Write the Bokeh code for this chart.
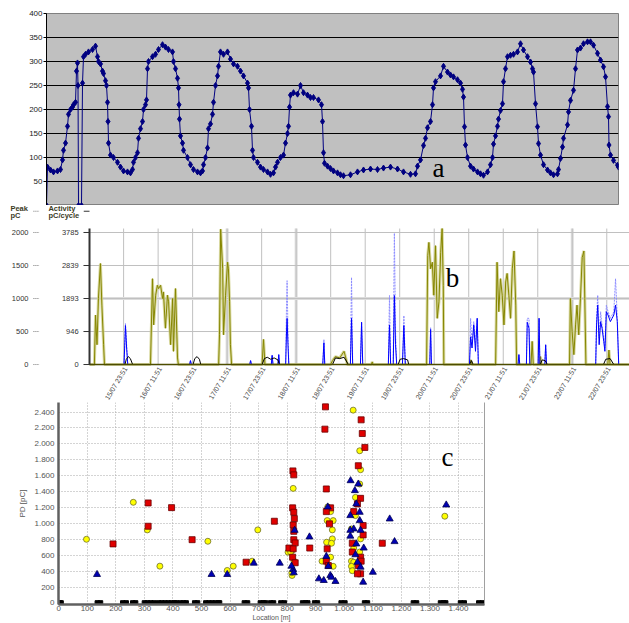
import math
from bokeh.plotting import figure
from bokeh.models import (Range1d, FixedTicker, Label, LinearAxis, GlobalInlineStyleSheet)
from bokeh.core.properties import value
from bokeh.embed import file_html
from bokeh.resources import INLINE

SANS = "Liberation Sans"
SERIF = "Liberation Serif"

# ---------------- panel a : load curve (sample index, value) ----------------
load_s = [0, 1, 4, 7, 11, 14, 16, 17, 19, 21,
          22, 24, 26, 27, 29, 30, 31, 31.5, 32, 35,
          36, 37, 39, 42, 46, 49, 51, 52, 54, 56,
          57, 59, 60, 61, 61.5, 62, 64, 67, 71, 74,
          77, 81, 84, 86, 87, 89, 91, 92, 94, 96,
          97, 99, 100, 101, 102, 106, 109, 112, 116, 119,
          122, 126, 127, 129, 131, 132, 132.5, 133, 134, 136,
          137, 141, 144, 147, 151, 154, 156, 157, 159, 161,
          162, 164, 166, 167, 169, 171, 172, 174, 177, 181,
          184, 187, 191, 194, 197, 201, 202, 203, 205, 206,
          207, 211, 214, 217, 221, 224, 227, 229, 231, 234,
          237, 239, 241, 242, 243, 244, 247, 251, 254, 257,
          261, 264, 267, 272, 275, 276, 277, 278, 281, 284,
          287, 291, 294, 297, 304, 311, 317, 324, 331, 337,
          344, 351, 357, 364, 369, 371, 374, 377, 379, 381,
          384, 386, 387, 389, 394, 397, 401, 404, 407, 411,
          414, 416, 417, 418, 419, 421, 424, 427, 431, 434,
          437, 441, 444, 446, 447, 449, 451, 452, 454, 456,
          457, 459, 461, 464, 467, 471, 474, 477, 481, 484,
          486, 487, 489, 491, 492, 494, 497, 501, 504, 507,
          511, 512, 514, 516, 517, 521, 522, 524, 527, 529,
          531, 534, 537, 541, 544, 547, 551, 554, 557, 559,
          561, 562, 562.5, 564, 567, 571, 572]
load_v = [0, 80, 74, 70, 72, 75, 95, 115, 130, 165,
          190, 200, 205, 210, 215, 280, 297, 250, 0, 0,
          255, 310, 315, 320, 325, 332, 310, 300, 295, 280,
          275, 260, 250, 215, 175, 130, 105, 100, 90, 80,
          72, 70, 68, 75, 90, 100, 110, 140, 160, 175,
          200, 210, 220, 285, 300, 310, 315, 325, 335, 330,
          325, 320, 300, 285, 265, 245, 210, 180, 145, 130,
          115, 100, 85, 75, 70, 68, 72, 85, 100, 120,
          160, 170, 190, 215, 250, 270, 290, 320, 315, 320,
          305, 295, 290, 280, 270, 255, 245, 200, 165, 115,
          100, 90, 80, 75, 70, 65, 68, 80, 90, 100,
          105, 130, 150, 165, 205, 230, 235, 232, 250, 235,
          230, 225, 225, 220, 210, 175, 110, 88, 82, 77,
          72, 68, 64, 62, 64, 70, 74, 76, 75, 78,
          80, 76, 70, 65, 66, 82, 95, 125, 140, 162,
          175, 210, 245, 258, 270, 290, 278, 272, 268, 262,
          255, 242, 226, 164, 126, 100, 82, 76, 70, 66,
          63, 70, 85, 100, 128, 145, 165, 180, 198, 212,
          258, 285, 310, 313, 315, 320, 337, 324, 310, 299,
          285, 278, 212, 164, 129, 105, 85, 74, 68, 64,
          66, 75, 98, 122, 140, 168, 195, 219, 240, 285,
          324, 328, 337, 341, 341, 334, 317, 303, 289, 268,
          206, 185, 126, 105, 94, 84, 80]
load_ticks = [50, 100, 150, 200, 250, 300, 350, 400]

# ---------------- panel b : PD activity (hours since 15/07 00:00) ----------------
b_tick_h = [23.85, 35.85, 47.85, 59.85, 71.85, 83.85, 95.85, 107.85,
            119.85, 131.85, 143.85, 155.85, 167.85, 179.85, 191.85]
b_tick_lbl = ["15/07 23:51", "16/07 11:51", "16/07 23:51", "17/07 11:51",
              "17/07 23:51", "18/07 11:51", "18/07 23:51", "19/07 11:51",
              "19/07 23:51", "20/07 11:51", "20/07 23:51", "21/07 11:51",
              "21/07 23:51", "22/07 11:51", "22/07 23:51"]
b_band_h = [59.85, 83.85, 179.85]
peak_ticks = [0, 500, 1000, 1500, 2000]
peak_lbl = ["0", "500", "1000", "1500", "2000"]
act_lbl = ["0", "946", "1893", "2839", "3785"]

olive_t = [12.0, 13.7, 14.1, 14.6, 15.1, 15.8, 16.3, 16.9, 17.2,
           33.2, 33.9, 34.3, 35.0, 35.6, 36.0, 36.7, 37.4, 37.7, 38.4, 39.1, 39.5, 40.2, 40.9, 41.2, 41.9, 42.6, 42.9,
           56.9, 57.2, 57.6, 58.3, 58.6, 59.3, 60.0, 60.3, 60.7, 61.0, 61.4,
           72.0, 72.5, 73.0,
           95.8, 96.5, 97.5, 99.0, 100.5, 101.7,
           110.0, 110.3, 110.6,
           129.2, 129.6, 130.0, 130.6, 131.2, 131.7, 132.3, 132.9, 133.5, 134.1, 134.6, 135.0, 135.2,
           144.0, 144.5, 145.0,
           153.2, 153.7, 154.3, 154.9, 155.5, 156.1, 156.7, 157.2, 157.8, 158.4, 159.0, 159.6, 160.2, 160.5,
           165.5, 165.9, 166.3,
           168.5, 168.8, 169.1,
           178.9, 179.2, 179.8, 180.4, 181.0, 181.5, 182.1, 182.7, 183.3, 183.9, 184.2, 184.6,
           192.2, 192.6, 193.0, 199.8]
olive_v = [0, 0, 750, 300, 1000, 1530, 900, 300, 0,
           0, 1300, 600, 1050, 1200, 1150, 1200, 1000, 1100, 550, 1050, 950, 300, 1000, 200, 1150, 100, 0,
           0, 450, 2050, 1450, 450, 1050, 1550, 1450, 950, 300, 0,
           0, 380, 0,
           0, 60, 120, 100, 200, 0,
           0, 40, 0,
           0, 1650, 1850, 1450, 1550, 1050, 1800, 700, 950, 1700, 2060, 1200, 0,
           0, 70, 0,
           0, 1550, 800, 1300, 1050, 600, 1250, 1380, 1050, 700, 1450, 1720, 900, 0,
           0, 350, 0,
           0, 120, 0,
           0, 1000, 500, 150, 600, 900, 450, 1000, 1620, 1720, 1000, 0,
           0, 220, 0, 0]

blue_t = [12.0, 24.0, 24.5, 24.9, 25.3, 46.8, 47.1, 47.4, 67.7, 68.0, 68.3, 75.2, 75.5, 75.8,
          77.5, 77.8, 78.1, 80.2, 80.5, 80.7, 81.0, 81.3, 93.1, 93.5, 93.8, 102.7, 103.1, 103.5,
          106.2, 106.6, 107.0, 115.9, 116.3, 116.7, 117.6, 118.0, 118.4, 118.8, 120.8, 121.3, 121.8,
          130.3, 130.6, 130.9, 144.1, 144.5, 145.0, 145.6, 146.2, 146.8, 147.2, 161.0, 161.3, 161.6,
          163.9, 164.2, 164.8, 165.1, 168.0, 168.3, 168.6, 170.3, 170.6, 170.9,
          188.0, 188.3, 188.7, 189.2, 189.7, 190.2, 190.8, 191.2, 191.7, 192.3, 193.1, 193.7,
          194.3, 194.9, 195.5, 196.0, 199.8]
blue_v = [0, 0, 590, 250, 0, 0, 60, 0, 0, 60, 0, 0, 140, 0,
          0, 150, 0, 0, 500, 700, 300, 0, 0, 330, 0, 0, 700, 0,
          0, 640, 0, 0, 600, 0, 0, 1045, 300, 0, 0, 590, 0,
          0, 530, 0, 0, 420, 250, 600, 200, 700, 0, 0, 150, 0,
          0, 640, 550, 0, 0, 700, 0, 0, 300, 0,
          0, 600, 900, 300, 650, 550, 350, 200, 800, 750, 650, 700,
          750, 900, 650, 0, 0]
blue_hi = [0, 0, 620, 300, 0, 0, 60, 0, 0, 60, 0, 0, 140, 0,
           0, 150, 0, 0, 900, 1270, 500, 0, 0, 380, 0, 0, 1320, 0,
           0, 640, 0, 0, 1045, 0, 0, 1990, 500, 0, 0, 740, 0,
           0, 560, 0, 0, 700, 300, 650, 300, 700, 0, 0, 150, 0,
           0, 700, 700, 0, 0, 700, 0, 0, 300, 0,
           0, 700, 1050, 400, 800, 600, 400, 250, 900, 800, 700, 750,
           800, 1300, 700, 0, 0]

black_t = [12.0, 24.3, 24.8, 25.5, 26.2, 27.0, 48.0, 48.6, 49.4, 50.2, 50.7,
           72.0, 72.8, 73.8, 75.0, 76.2, 77.5, 78.0, 96.5, 97.5, 99.0, 100.5, 102.0,
           119.3, 120.0, 121.2, 122.6, 123.0, 144.2, 144.8, 145.4, 168.7, 169.4, 170.4, 171.2,
           190.7, 191.5, 193.0, 194.3, 199.8]
black_v = [0, 0, 80, 120, 90, 0, 0, 90, 120, 80, 0,
           0, 90, 110, 80, 100, 70, 0, 0, 100, 90, 110, 0,
           0, 80, 90, 70, 0, 0, 60, 0, 0, 70, 60, 0,
           0, 80, 90, 0, 0]

# ---------------- panel c : PD vs location ----------------
loc_ticks = [0, 100, 200, 300, 400, 500, 600, 700, 800, 900, 1000, 1100, 1200, 1300, 1400]
loc_lbl = ["0", "100", "200", "300", "400", "500", "600", "700", "800", "900",
           "1.000", "1.100", "1.200", "1.300", "1.400"]
pd_ticks = [0, 200, 400, 600, 800, 1000, 1200, 1400, 1600, 1800, 2000, 2200, 2400]
pd_lbl = ["0", "200", "400", "600", "800", "1.000", "1.200", "1.400", "1.600",
          "1.800", "2.000", "2.200", "2.400"]

yc_x = [97, 261, 310, 354, 522, 590, 611, 677, 697, 803,
        821, 817, 816, 824, 817, 812, 1031, 1054, 1057, 1054,
        1039, 942, 952, 940, 961, 958, 938, 958, 955, 952,
        922, 961, 1039, 1025, 1057, 1033, 1054, 1025, 1033, 1025,
        1028, 1352]
yc_y = [800, 1265, 918, 462, 775, 408, 462, 525, 918, 638,
        1440, 345, 380, 525, 660, 640, 2424, 1913, 1675, 1495,
        1327, 1207, 1148, 1035, 1035, 918, 763, 805, 750, 575,
        525, 460, 1098, 930, 805, 690, 640, 525, 512, 460,
        405, 1090]
rs_x = [190, 313, 313, 395, 467, 656, 755, 820, 823, 819,
        823, 825, 821, 823, 823, 828, 806, 821, 819, 828,
        879, 934, 932, 1059, 1063, 1072, 1049, 937, 952, 937,
        948, 940, 937, 944, 1057, 1046, 1033, 1066, 1066, 1028,
        1057, 1059, 1057, 1046, 1049, 1133, 1028]
rs_y = [742, 1257, 964, 1198, 795, 512, 1027, 1660, 1610, 1195,
        1140, 1060, 980, 900, 795, 755, 690, 680, 575, 505,
        690, 2465, 2185, 2302, 2130, 1955, 1725, 1433, 1195, 1148,
        994, 680, 525, 470, 1315, 1245, 1148, 972, 855, 750,
        575, 525, 366, 366, 470, 750, 640]
bt_x = [134, 535, 590, 683, 774, 821, 826, 815, 823, 878,
        911, 1022, 1049, 1037, 1042, 1021, 1054, 1054, 1033, 1021,
        1021, 1057, 1042, 1068, 1039, 1046, 1057, 1066, 1100, 1159,
        1176, 1357, 928, 937, 944, 951, 955, 969, 942]
bt_y = [358, 358, 358, 500, 500, 420, 913, 462, 380, 830,
        303, 1537, 1495, 1412, 1245, 1098, 1140, 1035, 930, 913,
        840, 913, 742, 690, 606, 512, 450, 261, 386, 1056,
        771, 1232, 282, 585, 460, 345, 324, 270, 1207]
zero_x = [3, 8, 135, 146, 224, 236, 259, 269, 300, 311, 322, 334, 350, 361, 372, 383,
          394, 405, 412, 426, 437, 446, 476, 486, 515, 526, 537, 548, 559, 563,
          650, 661, 706, 716, 724, 742, 752, 778, 790, 854, 865, 872, 896, 906,
          989, 1002, 1071, 1081, 1242, 1253, 1337, 1348, 1355, 1407, 1420, 1471, 1484]
zero_y = [0] * len(zero_x)


def sans_axis(ax, size="8px", color="#333333"):
    ax.major_label_text_font = SANS
    ax.major_label_text_font_size = size
    ax.major_label_text_color = color
    ax.minor_tick_line_color = None


# ================= panel a =================
pa = figure(width=629, height=205, x_range=Range1d(0, 572), y_range=Range1d(0, 400),
            output_backend="svg", toolbar_location=None, x_axis_location=None,
            min_border_left=46, min_border_right=11, min_border_top=13, min_border_bottom=0)
pa.background_fill_color = "#c0c0c0"
pa.border_fill_color = "white"
pa.outline_line_color = "#808080"
pa.xgrid.visible = False
pa.ygrid.ticker = FixedTicker(ticks=load_ticks[:-1])
pa.ygrid.grid_line_color = "black"
pa.ygrid.grid_line_width = 1
ya = pa.yaxis[0]
ya.ticker = FixedTicker(ticks=load_ticks)
sans_axis(ya, "8px", "#222222")
ya.major_tick_out = 3
ya.major_tick_in = 0
ya.major_label_standoff = 1
ya.axis_line_color = "black"
ya.major_tick_line_color = "black"
pa.line(load_s, load_v, color="#000080", line_width=1)
pa.scatter(load_s, load_v, marker="diamond", size=6, color="#000080")
pa.add_layout(Label(x=392, y=38, x_units="screen", y_units="screen", text="a",
                    text_font=SERIF, text_font_size="27px", text_align="center",
                    text_baseline="middle", text_color="black"))

# ================= panel b (whole canvas is the frame; 2.876 px per hour) =================
pb = figure(width=629, height=195, x_range=Range1d(-18.95, 199.75), y_range=Range1d(-545, 2409),
            output_backend="svg", toolbar_location=None,
            x_axis_location=None, y_axis_location=None,
            min_border_left=0, min_border_right=0, min_border_top=0, min_border_bottom=0)
pb.min_border = 0
pb.outline_line_color = None
pb.grid.visible = False
T0, T1, YTOP = 12.0, 199.75, 2060

# grid
pb.segment(x0=b_band_h, y0=0, x1=b_band_h, y1=YTOP, color="#dcdcdc", line_width=3)
pb.segment(x0=b_tick_h, y0=0, x1=b_tick_h, y1=YTOP, color="#c0c0c0", line_width=1)
pb.segment(x0=T0, y0=[1000], x1=T1, y1=[1000], color="#dcdcdc", line_width=3)
pb.segment(x0=T0, y0=peak_ticks[1:], x1=T1, y1=peak_ticks[1:], color="#c0c0c0", line_width=1)

# series
pb.line(blue_t, blue_hi, color="#8c8cff", line_width=1, line_dash="2 1")
pb.line(olive_t, olive_v, color="#cfcf8a", line_width=3, alpha=0.8)
pb.line(olive_t, olive_v, color="#868600", line_width=1)
pb.line(blue_t, blue_v, color="#0000ff", line_width=1)
pb.line(black_t, black_v, color="#000000", line_width=1)
pb.segment(x0=T0, y0=0, x1=T1, y1=0, color="#4d4d00", line_width=1.5)

# left axes (activity next to frame, peak further out)
pb.segment(x0=T0, y0=0, x1=T0, y1=YTOP, color="#333333", line_width=2)
pb.segment(x0=T0, y0=peak_ticks, x1=9.9, y1=peak_ticks, color="#333333", line_width=1)
pb.text(x=8.2, y=peak_ticks, text=act_lbl, text_align="right", text_baseline="middle",
        text_font=value(SANS), text_font_size="7.5px", text_color="#333333")
pb.segment(x0=-7.5, y0=peak_ticks, x1=-5.4, y1=peak_ticks, color="#777777",
           line_width=1, line_dash="1 1")
pb.text(x=-9.2, y=peak_ticks, text=peak_lbl, text_align="right", text_baseline="middle",
        text_font=value(SANS), text_font_size="7.5px", text_color="#333333")

# headers
hdr = dict(text_font=SANS, text_font_style="bold", text_font_size="7.5px",
           text_color="#3b3b1e", text_baseline="middle")
pb.add_layout(Label(x=-15.5, y=2356, text="Peak", **hdr))
pb.add_layout(Label(x=-15.5, y=2250, text="pC", **hdr))
pb.add_layout(Label(x=-2.3, y=2356, text="Activity", **hdr))
pb.add_layout(Label(x=-2.3, y=2250, text="pC/cycle", **hdr))
pb.segment(x0=[-7.5], y0=[2322], x1=[-5.4], y1=[2322], color="#777777",
           line_width=1, line_dash="1 1")
pb.segment(x0=[10.0], y0=[2322], x1=[12.0], y1=[2322], color="#333333", line_width=1)

# rotated time labels
pb.text(x=b_tick_h, y=-45, text=b_tick_lbl, angle=1.03, text_align="right",
        text_baseline="middle", x_offset=2, text_font=value(SANS),
        text_font_size="7px", text_color="#444444")
pb.add_layout(Label(x=138.2, y=1318, text="b", text_font=SERIF, text_font_size="27px",
                    text_align="center", text_baseline="middle", text_color="black"))

# ================= panel c =================
pc = figure(width=629, height=223, x_range=Range1d(-1, 1491), y_range=Range1d(-20, 2520),
            output_backend="svg", toolbar_location=None,
            min_border_left=58, min_border_right=145, min_border_top=2, min_border_bottom=19)
pc.outline_line_color = None
pc.xgrid.ticker = FixedTicker(ticks=loc_ticks[1:])
pc.ygrid.ticker = FixedTicker(ticks=pd_ticks[1:])
for g in (pc.xgrid[0], pc.ygrid[0]):
    g.grid_line_color = "#a8a8a8"
    g.grid_line_dash = "1 2"
xc = pc.xaxis[0]
xc.ticker = FixedTicker(ticks=loc_ticks)
xc.major_label_overrides = dict(zip(loc_ticks, loc_lbl))
sans_axis(xc, "8px", "#555555")
xc.major_tick_out = 0
xc.major_tick_in = 0
xc.major_label_standoff = 1
xc.axis_line_color = "#606060"
xc.axis_line_width = 2.5
xc.major_tick_line_color = "#606060"
xc.axis_label = "Location [m]"
xc.axis_label_text_font = SANS
xc.axis_label_text_font_size = "7px"
xc.axis_label_text_font_style = "normal"
xc.axis_label_text_color = "#555555"
xc.axis_label_standoff = 0
ycx = pc.yaxis[0]
ycx.ticker = FixedTicker(ticks=pd_ticks)
ycx.major_label_overrides = dict(zip(pd_ticks, pd_lbl))
sans_axis(ycx, "8px", "#555555")
ycx.major_tick_out = 0
ycx.major_tick_in = 0
ycx.major_label_standoff = 4
ycx.axis_line_color = "#606060"
ycx.axis_line_width = 2.5
ycx.axis_label = "PD [pC]"
ycx.axis_label_text_font = SANS
ycx.axis_label_text_font_size = "8px"
ycx.axis_label_text_font_style = "normal"
ycx.axis_label_text_color = "#555555"
ycx.axis_label_standoff = 4
pc.add_layout(LinearAxis(ticker=FixedTicker(ticks=[]), axis_line_color="#a0a0a0",
                         major_tick_line_color=None, minor_tick_line_color=None,
                         major_label_standoff=0, major_tick_out=0, major_tick_in=0), "right")

pc.scatter(yc_x, yc_y, marker="circle", size=6, fill_color="#ffff00",
           line_color="#6e6e2c", line_width=0.8)
pc.scatter(rs_x, rs_y, marker="square", size=6, fill_color="#e00000",
           line_color="#6a0000", line_width=0.8)
pc.scatter(bt_x, bt_y, marker="triangle", size=7, fill_color="#0000b4",
           line_color="#000050", line_width=0.8)
pc.scatter(zero_x, zero_y, marker="square", size=4.5, color="black")
pc.add_layout(Label(x=1361, y=1830, text="c", text_font=SERIF, text_font_size="27px",
                    text_align="center", text_baseline="middle", text_color="black"))

css = GlobalInlineStyleSheet(css="html, body { margin: 0 !important; padding: 0 !important; overflow: hidden; }")
pa.stylesheets = [css]

open("out.html", "w").write(file_html([pa, pb, pc], INLINE))
